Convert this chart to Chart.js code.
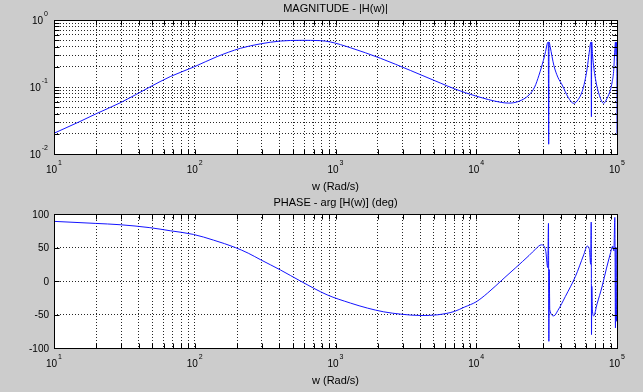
<!DOCTYPE html>
<html>
<head>
<meta charset="utf-8">
<title>|H(w)| y arg H(w)</title>
<script src="https://cdn.jsdelivr.net/npm/chart.js@4.4.1/dist/chart.umd.min.js"></script>
<style>
  html, body { margin: 0; padding: 0; background: #cccccc; }
  #wrap { position: relative; width: 643px; height: 392px; }
  canvas { position: absolute; left: 0; top: 0; }
</style>
</head>
<body>
<div id="wrap">
  <canvas id="mag-chart" width="643" height="392"></canvas>
  <canvas id="phase-chart" width="643" height="392"></canvas>
</div>
<script>
// Datos
const magFreq = [10, 15, 20, 30, 48, 67, 98, 144, 211, 292, 406, 563, 780, 920, 1280,
  2090, 3420, 5590, 7000, 10000, 15000, 17000, 20000, 23700, 26000, 27900, 30000, 31100,
  32000, 32500, 32700, 32900, 33500, 35600, 38000, 40800, 45000, 49300, 53000, 56500,
  59000, 61400, 63500, 65000, 65500, 65800, 66100, 67000, 70200, 75000, 80400, 85000,
  89700, 92500, 94600, 96500, 97500, 98500, 99300, 99800, 100000];
const magValues = [0.0204, 0.030, 0.040, 0.059, 0.100, 0.143, 0.198, 0.284, 0.378, 0.44,
  0.485, 0.497, 0.492, 0.47, 0.385, 0.268, 0.176, 0.114, 0.094, 0.073, 0.059, 0.0575,
  0.061, 0.076, 0.10, 0.15, 0.25, 0.34, 0.45, 0.47, 0.014, 0.47, 0.40, 0.21, 0.14, 0.107,
  0.07, 0.057, 0.065, 0.085, 0.12, 0.19, 0.33, 0.46, 0.47, 0.036, 0.47, 0.30, 0.135, 0.075,
  0.057, 0.068, 0.09, 0.12, 0.17, 0.36, 0.47, 0.30, 0.47, 0.21, 0.02];

const phaseFreq = [10, 19.6, 29.5, 48, 67, 98, 136, 194, 240, 292, 406, 563, 871, 1280,
  1690, 2200, 2910, 4040, 5330, 6980, 8230, 10000, 12040, 15770, 19100, 23700, 26500,
  29000, 31100, 32200, 32600, 32800, 33000, 33300, 35600, 38000, 43000, 50700, 58000,
  61400, 63700, 65000, 65600, 65900, 66200, 66800, 68400, 72000, 78400, 84000, 89700,
  93100, 95000, 96500, 97500, 98500, 99300, 100000];
const phaseValues = [89, 86, 84, 79.6, 75, 69.5, 61, 50, 41.5, 32, 16.5, 0, -20.6, -33,
  -40.5, -46, -49.5, -51.5, -50.4, -45.5, -39, -31, -18, 4.3, 20, 38, 48, 54, 46, 20, 86,
  -90, 17, -43, -52, -44, -23, 7, 39, 52, 47, 25, 88, -80, -8, -43, -52, -35, -8, 18, 41,
  52, 45, 95, -70, 50, -60, -40];

// Etiquetas de los ejes
const freqDecades = [10, 100, 1000, 10000, 100000];
const magDecades = [0.01, 0.1, 1];
const phaseTicks = [-100, -50, 0, 50, 100];

const FONT = '"Liberation Sans", Arial, Helvetica, sans-serif';
const LINE_COLOR = '#1414ff';

// Lineas de grilla 1..9 x 10^n entre las decadas
function logGrid(decades) {
  const out = [];
  for (let i = 0; i < decades.length - 1; i++) {
    for (let k = 1; k < 10; k++) out.push(+(k * decades[i]).toPrecision(3));
  }
  out.push(decades[decades.length - 1]);
  return out;
}

function potencia(ctx, value, x, y, align) {
  const exp = String(Math.round(Math.log10(value)));
  ctx.font = '10px ' + FONT;
  const wBase = ctx.measureText('10').width;
  ctx.font = '7px ' + FONT;
  const wExp = ctx.measureText(exp).width;
  const total = wBase + 1 + wExp;
  const left = align === 'center' ? x - total / 2 : x - total;
  ctx.textAlign = 'left';
  ctx.textBaseline = 'middle';
  ctx.font = '10px ' + FONT;
  ctx.fillText('10', left, y);
  ctx.font = '7px ' + FONT;
  ctx.fillText(exp, left + wBase + 1, y - 7);
}

// Marco, marcas y textos al estilo MATLAB
const marcoMatlab = {
  id: 'marcoMatlab',
  beforeDraw(chart) {
    const { ctx, chartArea: a } = chart;
    ctx.save();
    ctx.fillStyle = '#ffffff';
    ctx.fillRect(a.left, a.top, a.right - a.left, a.bottom - a.top);
    ctx.restore();
  },
  afterDraw(chart, args, opts) {
    const { ctx, chartArea: a, scales } = chart;
    const L = Math.round(a.left) + 0.5, R = Math.round(a.right) + 0.5;
    const T = Math.round(a.top) + 0.5, B = Math.round(a.bottom) + 0.5;
    ctx.save();
    ctx.strokeStyle = '#000';
    ctx.lineWidth = 1;
    ctx.beginPath();
    scales.x.ticks.forEach(t => {
      const px = Math.round(scales.x.getPixelForValue(t.value)) + 0.5;
      ctx.moveTo(px, B); ctx.lineTo(px, B - 5);
      ctx.moveTo(px, T); ctx.lineTo(px, T + 5);
    });
    scales.y.ticks.forEach(t => {
      const py = Math.round(scales.y.getPixelForValue(t.value)) + 0.5;
      ctx.moveTo(L, py); ctx.lineTo(L + 5, py);
      ctx.moveTo(R, py); ctx.lineTo(R - 5, py);
    });
    ctx.stroke();
    ctx.strokeRect(L, T, R - L, B - T);

    ctx.fillStyle = '#000';
    freqDecades.forEach(v => {
      potencia(ctx, v, scales.x.getPixelForValue(v), a.bottom + 16, 'center');
    });
    if (opts.logY) {
      magDecades.forEach(v => {
        potencia(ctx, v, a.left - 6, scales.y.getPixelForValue(v) + 1, 'right');
      });
    } else {
      ctx.font = '10px ' + FONT;
      ctx.textAlign = 'right';
      ctx.textBaseline = 'middle';
      phaseTicks.forEach(v => {
        ctx.fillText(String(v), a.left - 5, scales.y.getPixelForValue(v) + 1);
      });
    }
    const cx = (a.left + a.right) / 2;
    ctx.font = '11px ' + FONT;
    ctx.textAlign = 'center';
    ctx.textBaseline = 'middle';
    ctx.fillText(opts.title, cx, a.top - 11);
    ctx.fillText('w (Rad/s)', cx, a.bottom + 33);
    ctx.restore();
  }
};

function crearGrafico(id, freq, values, yScale, padding, title, logY) {
  const xGrid = logGrid(freqDecades);
  return new Chart(document.getElementById(id), {
    type: 'line',
    data: {
      datasets: [{
        data: freq.map((w, i) => ({ x: w, y: values[i] })),
        borderColor: LINE_COLOR,
        borderWidth: 1,
        pointRadius: 0,
        cubicInterpolationMode: 'monotone',
        fill: false
      }]
    },
    options: {
      responsive: false,
      animation: false,
      events: [],
      layout: { padding: padding },
      plugins: {
        legend: { display: false },
        tooltip: { enabled: false },
        marcoMatlab: { title: title, logY: logY }
      },
      scales: {
        x: {
          type: 'logarithmic',
          min: 10,
          max: 100000,
          afterBuildTicks: s => { s.ticks = xGrid.map(v => ({ value: v })); },
          afterFit: s => { s.height = 0; },
          ticks: { display: false },
          grid: { color: 'rgba(0,0,0,0.85)', lineWidth: 1, drawTicks: false },
          border: { display: false, dash: [1, 2] }
        },
        y: Object.assign({
          afterFit: s => { s.width = 0; },
          ticks: { display: false },
          grid: { color: 'rgba(0,0,0,0.85)', lineWidth: 1, drawTicks: false },
          border: { display: false, dash: [1, 2] }
        }, yScale)
      }
    },
    plugins: [marcoMatlab]
  });
}

const magGrid = logGrid(magDecades);
crearGrafico('mag-chart', magFreq, magValues, {
  type: 'logarithmic',
  min: 0.01,
  max: 1,
  afterBuildTicks: s => { s.ticks = magGrid.map(v => ({ value: v })); }
}, { left: 54, right: 26, top: 20, bottom: 238 }, 'MAGNITUDE - |H(w)|', true);

crearGrafico('phase-chart', phaseFreq, phaseValues, {
  type: 'linear',
  min: -100,
  max: 100,
  afterBuildTicks: s => { s.ticks = phaseTicks.map(v => ({ value: v })); }
}, { left: 54, right: 26, top: 214, bottom: 44 }, 'PHASE - arg [H(w)] (deg)', false);
</script>
</body>
</html>
